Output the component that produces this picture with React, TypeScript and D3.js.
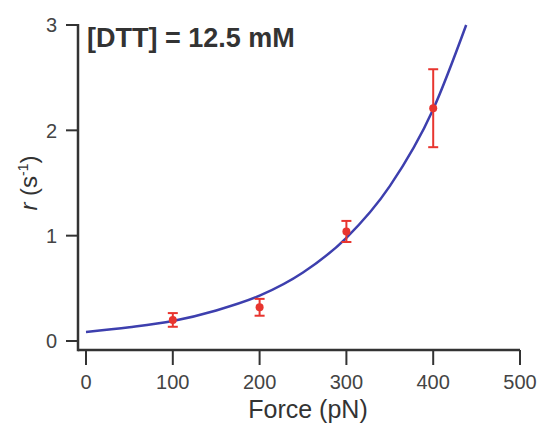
import React, { useRef, useEffect } from "react";
import * as d3 from "d3";

// measured points (force in pN, rate in s^-1, error)
const forces = [100, 200, 300, 400];
const rates = [0.2, 0.32, 1.04, 2.21];
const errors = [0.065, 0.08, 0.1, 0.37];

// fit curve
const fitForces = [0, 50, 100, 150, 200, 250, 300, 350, 400, 438];
const fitRates = [0.085, 0.13, 0.19, 0.29, 0.43, 0.65, 0.98, 1.47, 2.2, 3.0];

const xTicks = [0, 100, 200, 300, 400, 500];
const yTicks = [0, 1, 2, 3];

const W = 543;
const H = 425;

const App = () => {
  const svgRef = useRef<SVGSVGElement>(null);

  useEffect(() => {
    const svg = d3.select(svgRef.current);
    svg.selectAll("*").remove();

    const font = "'Liberation Sans', Arial, sans-serif";
    const ink = "#333";

    const x = d3.scaleLinear().domain([0, 500]).range([86, 520]);
    const y = d3.scaleLinear().domain([0, 3]).range([341, 25]);
    const axisY = 350;
    const axisX = 78;

    // axis lines
    svg
      .append("line")
      .attr("x1", axisX)
      .attr("x2", x(500))
      .attr("y1", axisY)
      .attr("y2", axisY)
      .attr("stroke", ink)
      .attr("stroke-width", 2.5);
    svg
      .append("line")
      .attr("x1", axisX)
      .attr("x2", axisX)
      .attr("y1", y(3) - 1)
      .attr("y2", axisY + 1.25)
      .attr("stroke", ink)
      .attr("stroke-width", 2.5);

    // x ticks
    const xt = svg.append("g").selectAll("g").data(xTicks).enter().append("g");
    xt.append("line")
      .attr("x1", (d) => x(d))
      .attr("x2", (d) => x(d))
      .attr("y1", axisY)
      .attr("y2", axisY + 15)
      .attr("stroke", ink)
      .attr("stroke-width", 2);
    xt.append("text")
      .attr("x", (d) => x(d))
      .attr("y", 389)
      .attr("text-anchor", "middle")
      .attr("font-family", font)
      .attr("font-size", 20)
      .attr("fill", "#444")
      .text((d) => d);

    // y ticks
    const yt = svg.append("g").selectAll("g").data(yTicks).enter().append("g");
    yt.append("line")
      .attr("x1", axisX - 12)
      .attr("x2", axisX)
      .attr("y1", (d) => y(d))
      .attr("y2", (d) => y(d))
      .attr("stroke", ink)
      .attr("stroke-width", 2);
    yt.append("text")
      .attr("x", 57)
      .attr("y", (d) => y(d))
      .attr("dy", "0.36em")
      .attr("text-anchor", "end")
      .attr("font-family", font)
      .attr("font-size", 20)
      .attr("fill", "#444")
      .text((d) => d);

    // axis labels
    svg
      .append("text")
      .attr("x", 308)
      .attr("y", 418)
      .attr("text-anchor", "middle")
      .attr("font-family", font)
      .attr("font-size", 25)
      .attr("fill", ink)
      .text("Force (pN)");

    const yl = svg
      .append("text")
      .attr("transform", `translate(37, ${(y(0) + y(3)) / 2}) rotate(-90)`)
      .attr("text-anchor", "middle")
      .attr("font-family", font)
      .attr("font-size", 24)
      .attr("fill", ink);
    yl.append("tspan").attr("font-style", "italic").text("r");
    yl.append("tspan").text(" (s");
    yl.append("tspan").attr("font-size", 14).attr("dy", -9).text("-1");
    yl.append("tspan").attr("dy", 9).text(")");

    // title
    svg
      .append("text")
      .attr("x", 87)
      .attr("y", 47)
      .attr("font-family", font)
      .attr("font-size", 27)
      .attr("font-weight", "bold")
      .attr("fill", ink)
      .text("[DTT] = 12.5 mM");

    // fit curve
    const line = d3
      .line<number>()
      .x((d, i) => x(fitForces[i]))
      .y((d) => y(d))
      .curve(d3.curveMonotoneX);
    svg
      .append("path")
      .attr("d", line(fitRates))
      .attr("fill", "none")
      .attr("stroke", "#3d3fae")
      .attr("stroke-width", 2.5);

    // error bars
    const pts = svg.append("g").selectAll("g").data(forces).enter().append("g");
    pts
      .append("line")
      .attr("x1", (d) => x(d))
      .attr("x2", (d) => x(d))
      .attr("y1", (d, i) => y(rates[i] + errors[i]))
      .attr("y2", (d, i) => y(rates[i] - errors[i]))
      .attr("stroke", "#e8352f")
      .attr("stroke-width", 2);
    [1, -1].forEach((s) => {
      pts
        .append("line")
        .attr("x1", (d) => x(d) - 5)
        .attr("x2", (d) => x(d) + 5)
        .attr("y1", (d, i) => y(rates[i] + s * errors[i]))
        .attr("y2", (d, i) => y(rates[i] + s * errors[i]))
        .attr("stroke", "#e8352f")
        .attr("stroke-width", 2);
    });
    pts
      .append("circle")
      .attr("cx", (d) => x(d))
      .attr("cy", (d, i) => y(rates[i]))
      .attr("r", 4)
      .attr("fill", "#e8352f");
  }, []);

  return (
    <svg
      ref={svgRef}
      width={W}
      height={H}
      style={{ position: "absolute", left: 0, top: 0, background: "#fff" }}
    />
  );
};

export default App;
